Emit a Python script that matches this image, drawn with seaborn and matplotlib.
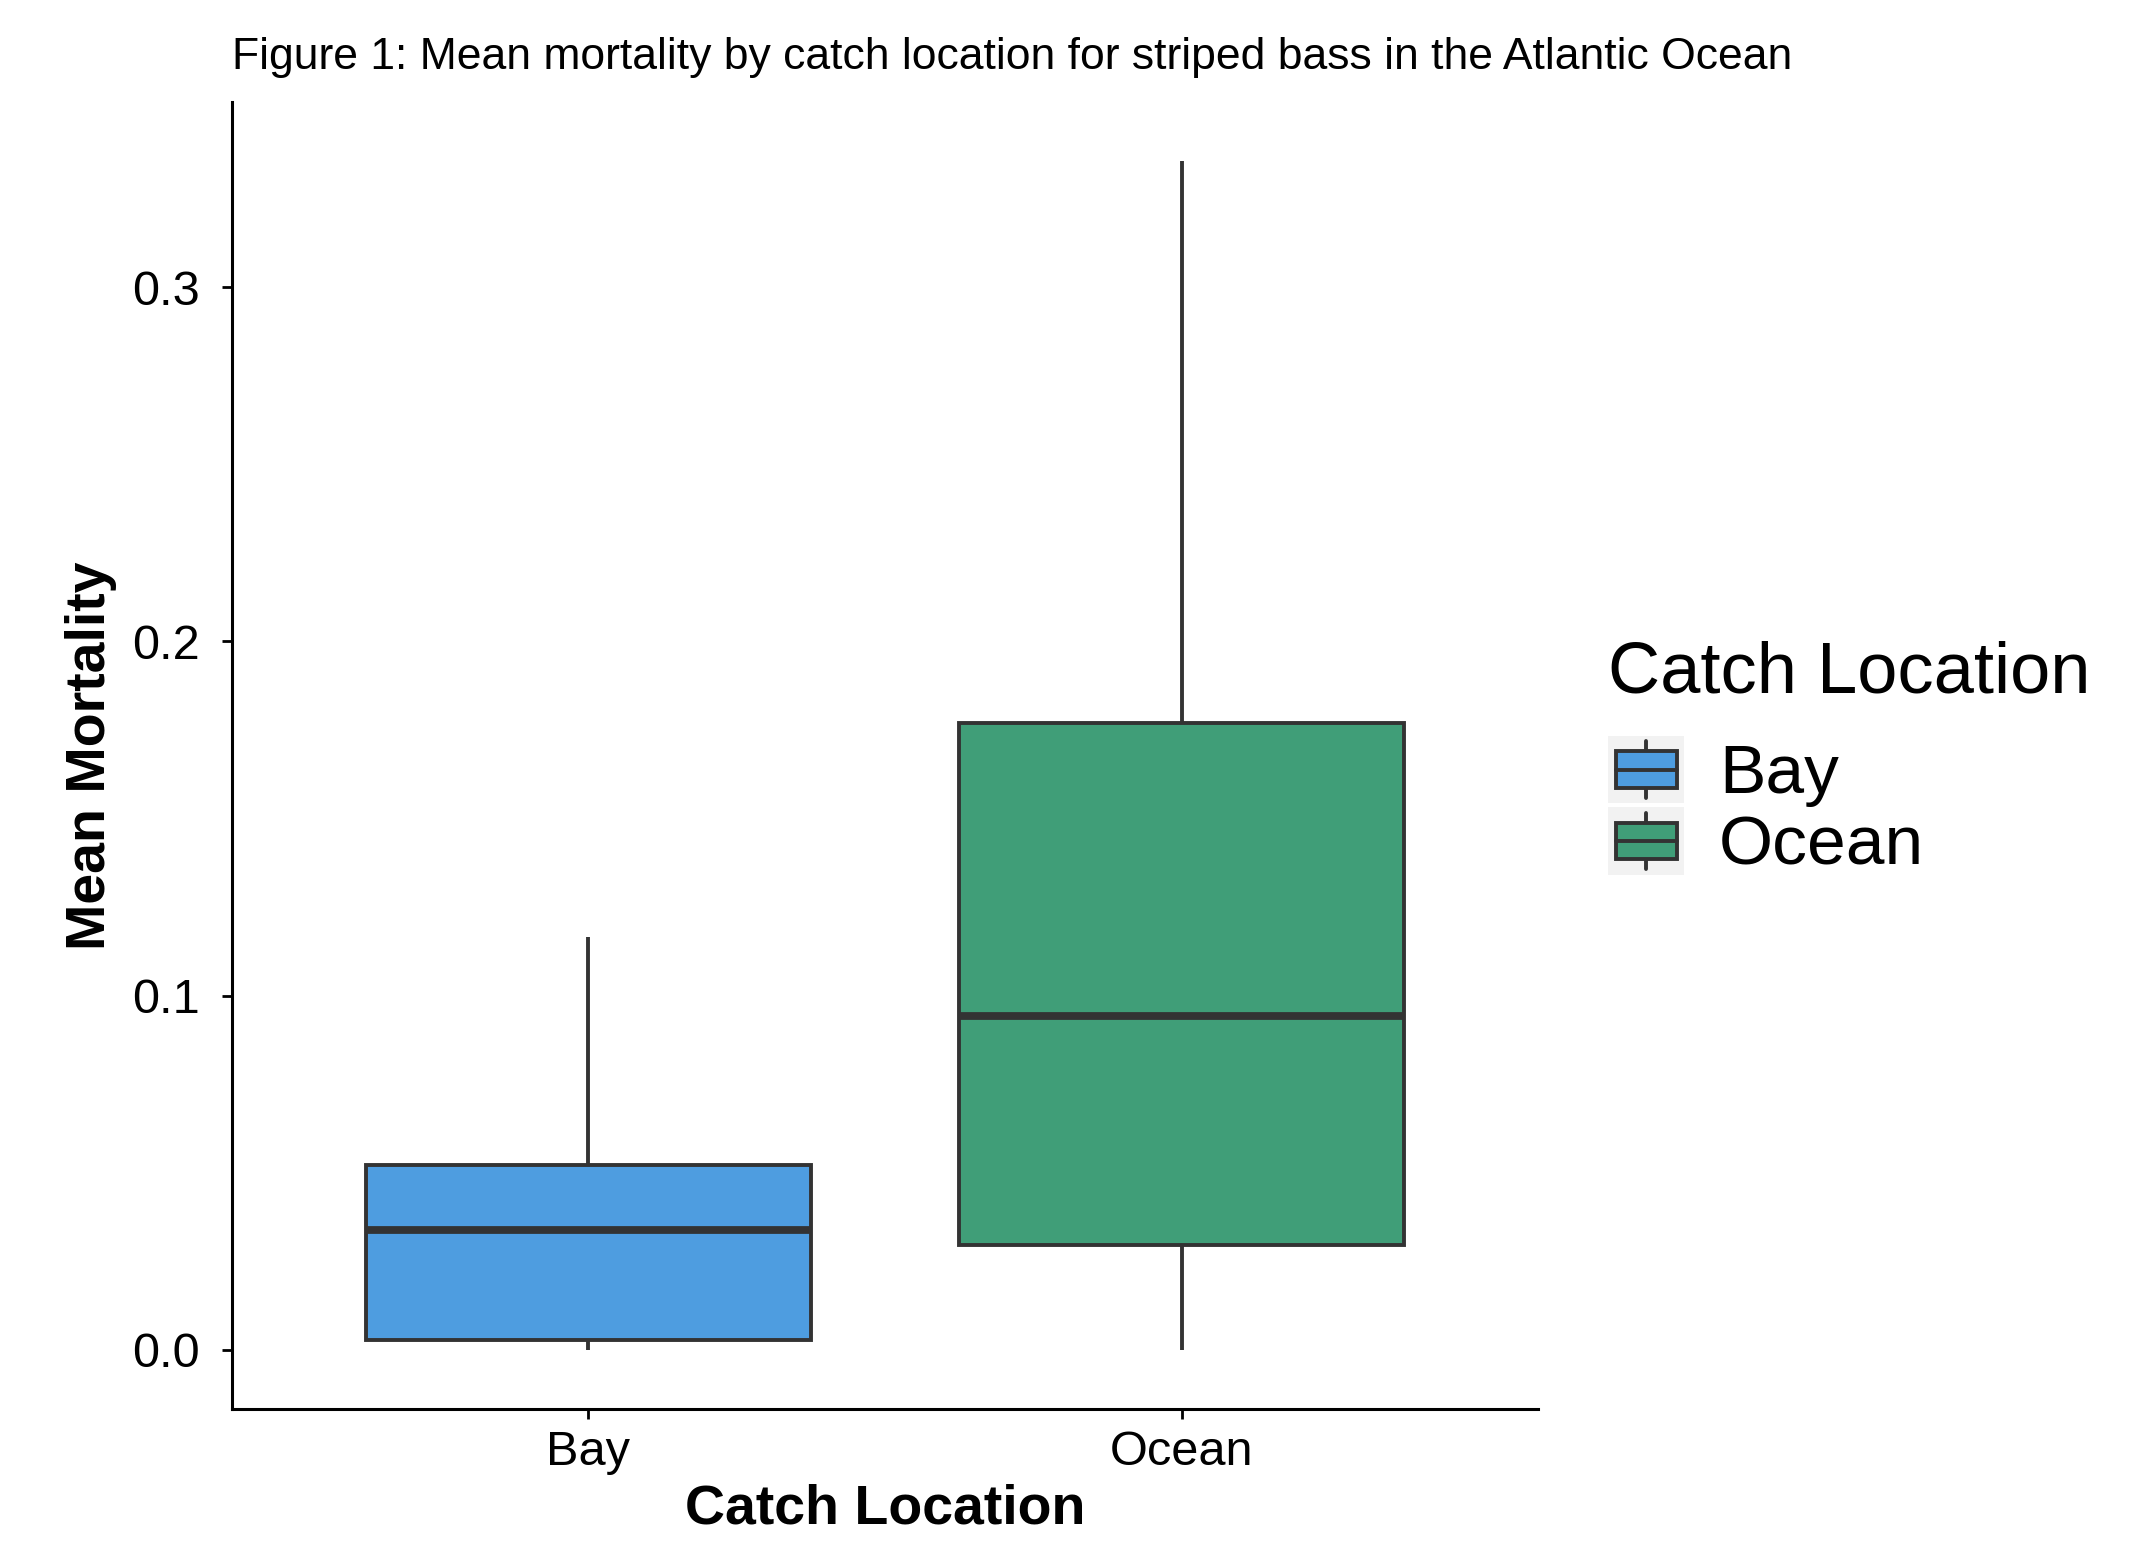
import matplotlib
matplotlib.use("Agg")
import matplotlib.pyplot as plt
from matplotlib.legend_handler import HandlerBase
from matplotlib.patches import Rectangle
from matplotlib.lines import Line2D
import seaborn as sns
import pandas as pd

# Five-number summaries (min, Q1, median, Q3, max) of mean mortality per catch location
locations = ["Bay", "Ocean"]
bay_values = [0.0, 0.0027, 0.0337, 0.0521, 0.1165]
ocean_values = [0.0, 0.0295, 0.0943, 0.1770, 0.3356]
colors = {"Bay": "#4E9DE0", "Ocean": "#409E78"}
y_ticks = [0.0, 0.1, 0.2, 0.3]

df = pd.DataFrame({
    "Catch Location": ["Bay"] * len(bay_values) + ["Ocean"] * len(ocean_values),
    "Mean Mortality": bay_values + ocean_values,
})

sns.set_theme(style="white")
plt.rcParams["font.family"] = ["Liberation Sans", "DejaVu Sans"]
plt.rcParams["text.color"] = "black"

W, H = 2129, 1543
DPI = 200
fig = plt.figure(figsize=(W / DPI, H / DPI), dpi=DPI)
left, right, top, bottom = 232, 1538, 102, 1409
ax = fig.add_axes([left / W, (H - bottom) / H, (right - left) / W, (bottom - top) / H])

edge = "#333333"
sns.boxplot(
    data=df, x="Catch Location", y="Mean Mortality", hue="Catch Location",
    order=locations, palette=colors, saturation=1, width=0.75, whis=1.5,
    linecolor=edge, linewidth=1.4, legend=False, ax=ax,
    medianprops=dict(color=edge, linewidth=2.8),
    whiskerprops=dict(color=edge, linewidth=1.4),
    capprops=dict(linewidth=0),
    flierprops=dict(marker="o", markersize=4, markerfacecolor=edge, markeredgecolor=edge),
)

# Data range expanded by 5% on each side
data_min = min(bay_values + ocean_values)
data_max = max(bay_values + ocean_values)
span = data_max - data_min
ax.set_ylim(data_min - 0.05 * span, data_max + 0.05 * span)
ax.set_xlim(-0.6, len(locations) - 0.4)
ax.set_yticks(y_ticks)
ax.set_yticklabels([f"{t:.1f}" for t in y_ticks])

for side in ["top", "right"]:
    ax.spines[side].set_visible(False)
for side in ["left", "bottom"]:
    ax.spines[side].set_linewidth(1.1)
    ax.spines[side].set_color("black")

ax.tick_params(axis="y", which="major", left=True, length=3.6, width=1.0, color="black",
               labelsize=17.5, labelcolor="black", pad=8)
ax.tick_params(axis="x", which="major", bottom=True, length=3.6, width=1.0, color="black",
               labelsize=17.5, labelcolor="black", pad=4)

ax.set_xlabel("Catch Location", fontsize=20, fontweight="bold", color="black", va="center")
ax.set_ylabel("Mean Mortality", fontsize=20, fontweight="bold", color="black")
ax.xaxis.set_label_coords(0.5, -0.077)
ax.yaxis.set_label_coords(-0.088, 0.5)

fig.text(left / W, 1 - 57 / H,
         "Figure 1: Mean mortality by catch location for striped bass in the Atlantic Ocean",
         fontsize=16, color="black", ha="left", va="center")


class BoxKeyHandler(HandlerBase):
    """Legend key drawn as a small box-and-whisker glyph on a grey square."""

    def create_artists(self, legend, orig_handle, xdescent, ydescent, width, height, fontsize, trans):
        x0, y0 = -xdescent, -ydescent
        arts = [Rectangle((x0, y0), width, height, facecolor="#F2F2F2", edgecolor="none",
                          transform=trans)]
        bx0, bx1 = x0 + 0.1 * width, x0 + 0.9 * width
        by0, by1 = y0 + 0.23 * height, y0 + 0.77 * height
        cx = x0 + 0.5 * width
        arts.append(Line2D([cx, cx], [y0 + 0.08 * height, by0], color=edge, lw=1.4, transform=trans))
        arts.append(Line2D([cx, cx], [by1, y0 + 0.92 * height], color=edge, lw=1.4, transform=trans))
        arts.append(Rectangle((bx0, by0), bx1 - bx0, by1 - by0, facecolor=orig_handle.get_facecolor(),
                              edgecolor=edge, linewidth=1.4, transform=trans))
        ym = y0 + 0.5 * height
        arts.append(Line2D([bx0, bx1], [ym, ym], color=edge, lw=1.4, transform=trans))
        return arts


handles = [Rectangle((0, 0), 1, 1, facecolor=colors[loc]) for loc in locations]
leg = fig.legend(
    handles, locations, title="Catch Location",
    handler_map={Rectangle: BoxKeyHandler()},
    loc="upper left", bbox_to_anchor=(1608 / W, 1 - 641 / H),
    frameon=False, fontsize=25, title_fontsize=26,
    handlelength=1.1, handleheight=1.12, labelspacing=0.0, handletextpad=0.5,
    borderpad=0.0, borderaxespad=0.0,
)
leg._legend_box.align = "left"
leg._legend_box.sep = 10
for t in leg.get_texts():
    t.set_color("black")
leg.get_title().set_color("black")

fig.savefig("out.png", dpi=DPI)
